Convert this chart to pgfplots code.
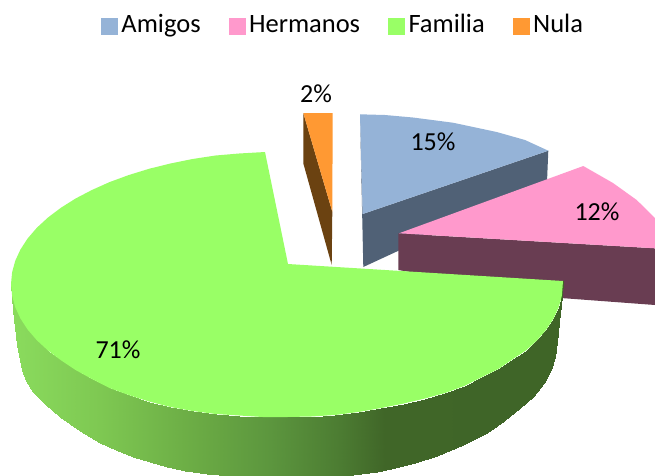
\documentclass[border=0pt]{standalone}
\usepackage{fontspec}
\setmainfont{Carlito}
\usepackage{pgfplots}
\pgfplotsset{compat=1.18}
\definecolor{cblue}{HTML}{95B3D7}
\definecolor{cpink}{HTML}{FF99CC}
\definecolor{cgreen}{HTML}{99FF66}
\definecolor{corange}{HTML}{FF9933}
\definecolor{sblue}{HTML}{506176}
\definecolor{spink}{HTML}{693D52}
\definecolor{sorange}{HTML}{6B4211}
\pgfplotsset{
  sq/.style={legend image code/.code={\fill[##1] (0pt,-8pt) rectangle (16pt,8pt);}},
}
\begin{document}
\begin{tikzpicture}
\path (0,0) rectangle (655pt,475pt);
\begin{axis}[
  at={(0,0)}, anchor=south west,
  scale only axis, width=655pt, height=475pt,
  xmin=0, xmax=655, ymin=0, ymax=475, y dir=reverse,
  hide axis, clip=true,
  colormap={side}{rgb255(0pt)=(140,222,95); rgb255(100pt)=(126,200,82); rgb255(200pt)=(106,170,68); rgb255(270pt)=(92,150,62); rgb255(340pt)=(76,124,50); rgb255(385pt)=(64,102,40); rgb255(655pt)=(62,100,39)},
  point meta min=0, point meta max=655,
  legend columns=4,
  legend style={at={(axis cs:343,26)}, anchor=center, draw=none, fill=none,
    font=\fontsize{26.5}{30}\selectfont, inner sep=0pt,
    nodes={text height=18pt, text depth=6pt},
    /tikz/every even column/.append style={column sep=26pt},
    /tikz/every odd column/.append style={column sep=2pt}},
  legend cell align=left,
]
\addlegendimage{sq, cblue}\addlegendentry{Amigos}
\addlegendimage{sq, cpink}\addlegendentry{Hermanos}
\addlegendimage{sq, cgreen}\addlegendentry{Familia}
\addlegendimage{sq, corange}\addlegendentry{Nula}

% Nula
\addplot[fill=sorange, draw=none] coordinates {(303.3,113)(332.3,211.7)(331.7,265)(303.3,163.3)} --cycle;
\addplot[fill=corange, draw=none] coordinates {(303.3,113)(332.7,113)(332.3,211.7)} --cycle;

% Amigos
\addplot[fill=sblue, draw=none] coordinates {(360,114.3)(362.7,214)(548.3,150.7)(547,182)(363.3,267)} --cycle;
\addplot[fill=cblue, draw=none] coordinates {(360,114.3)(362.7,214)(548.3,150.7)(525,140)(496.7,132)(453,122.7)(413,117.5)(385,115)} --cycle;

% Hermanos
\addplot[fill=spink, draw=none] coordinates {(398.3,233.3)(655,248.3)(655,305)(561,298)(398.3,270)} --cycle;
\addplot[fill=cpink, draw=none] coordinates {(399,233.3)(583.3,166)(613,183)(636.7,200)(655,218)(665,232)(665,249)(655,248.3)} --cycle;

% Familia: side
\addplot[surf, shader=interp, mesh/rows=2, mesh/ordering=x varies, point meta=x] table {
x y
563 281
561.9 295.6
558.8 307.1
553.6 318.4
546.4 329.5
537.1 340.3
526 350.5
513 359
498.4 369
482.1 377
464.5 385.9
445.4 392.9
425 398.5
403.7 403.5
381.4 408
358.5 412
335 415
311.1 416.5
287 417
262.9 417
239 415.5
215.5 414
192.6 411
170.3 407
149 401.5
128.6 395
109.5 388
91.9 379
75.6 370
61 360.3
48 350.5
36.9 340.3
27.6 329.5
20.4 318.4
15.2 307.1
12.1 295.6
11 284
561 300
559 322
557 342
555 357
551 370
544 383
533 397
520 408
504 421
487 433
463 445
437 456
415 463
395 468
377 472
353 475
330 477
305 478
280 478
255 477
230 476
207 474
200 473
185 470.5
167 467
150 462
133 457
116 450
100 443
80 431
60 417
45 404
33 392
26 381
21.7 370
17 345
13 310
};

% Familia: top
\addplot[fill=cgreen, draw=none] coordinates {
(288,264)(563,281)(561.9,295.6)(558.8,307.1)(553.6,318.4)(546.4,329.5)(537.1,340.3)(526,350.5)(513,359)(498.4,369)(482.1,377)(464.5,385.9)(445.4,392.9)(425,398.5)(403.7,403.5)(381.4,408)(358.5,412)(335,415)(311.1,416.5)(287,417)(262.9,417)(239,415.5)(215.5,414)(192.6,411)(170.3,407)(149,401.5)(128.6,395)(109.5,388)(91.9,379)(75.6,370)(61,360.3)(48,350.5)(36.9,340.3)(27.6,329.5)(20.4,318.4)(15.2,307.1)(12.1,295.6)(11,284)(12.1,272.4)(15.2,260.9)(20.4,249.6)(27.6,238.5)(36.9,227.7)(48,217.5)(61,207.7)(75.6,198.5)(91.9,190)(109.5,182.1)(128.6,175.1)(149,168.8)(170.3,163.5)(192.6,159)(215.5,155.5)(239,153.5)(265,152)} --cycle;

\node[font=\fontsize{26}{30}\selectfont] at (axis cs:433,142) {15\%};
\node[font=\fontsize{26}{30}\selectfont] at (axis cs:597,212) {12\%};
\node[font=\fontsize{26}{30}\selectfont] at (axis cs:316,94) {2\%};
\node[font=\fontsize{26}{30}\selectfont] at (axis cs:118,350) {71\%};
\end{axis}
\end{tikzpicture}
\end{document}
